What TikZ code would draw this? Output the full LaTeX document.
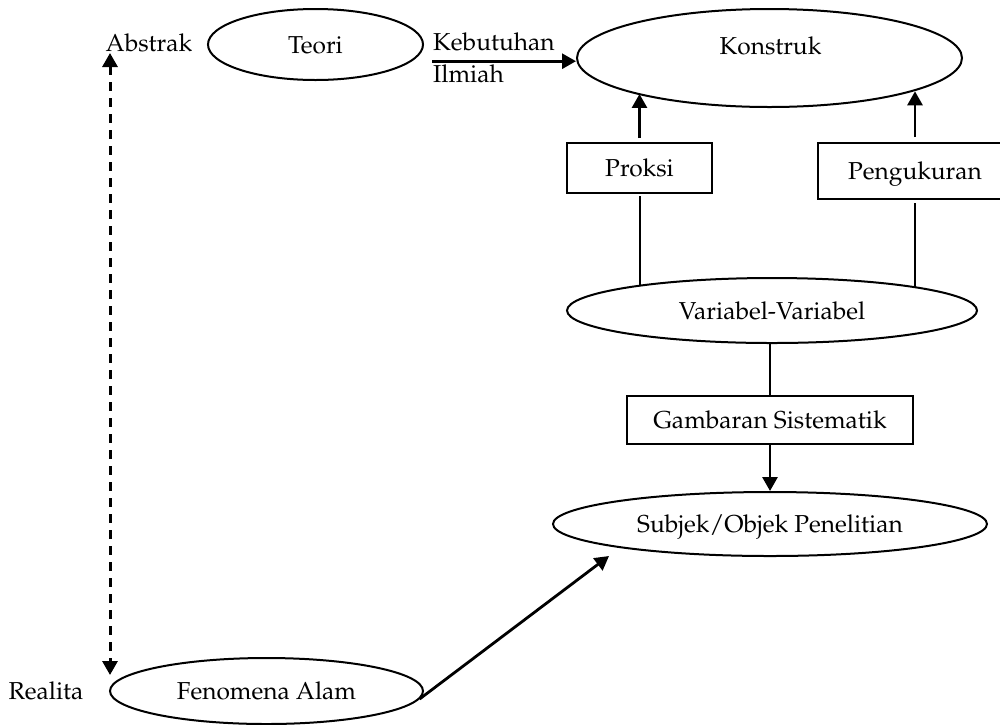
\documentclass[tikz,border=0pt]{standalone}
\usepackage[T1]{fontenc}
\usepackage{mathpazo}
\usetikzlibrary{shapes.geometric,arrows.meta,calc}

\begin{document}
\begin{tikzpicture}[x=1pt,y=-1pt,
  font=\fontsize{24.5}{29}\selectfont,
  txt/.style={inner sep=0pt, text height=17pt, text depth=0pt},
  oval/.style={draw, line width=2pt, ellipse, inner sep=0pt, text height=17pt, text depth=0pt},
  panel/.style={draw, line width=2pt, rectangle, inner sep=0pt, text height=17pt, text depth=0pt},
  link/.style={line width=2pt},
  arr/.style={line width=2.8pt, -{Triangle[length=14pt,width=15pt]}},
  dasharr/.style={line width=3pt, dash pattern=on 9pt off 7pt,
    {Triangle[length=14pt,width=15pt]}-{Triangle[length=14pt,width=15pt]}},
]
\clip (0,0) rectangle (1000,724);
\useasboundingbox (0,0) rectangle (1000,724);

% upper row: theory and construct
\node[txt] (abstrak) at (149,42.5) {Abstrak};
\node[oval, minimum width=215pt, minimum height=71pt] (teori) at (315.5,44.5) {Teori};
\node[txt, anchor=west] (kebutuhan) at (433,41.5) {Kebutuhan};
\node[txt, anchor=west] (ilmiah) at (433,74) {Ilmiah};
\node[oval, minimum width=385pt, minimum height=98pt] (konstruk) at (769.5,58) {};
\node[txt] (konstrukT) at (770.5,45.5) {Konstruk};

% operationalisation
\node[panel, minimum width=145pt, minimum height=50pt] (proksi) at (639.5,168) {Proksi};
\node[panel, minimum width=194pt, minimum height=56pt] (ukur) at (915,171) {Pengukuran};
\node[oval, minimum width=410pt, minimum height=65pt] (variabel) at (772,310.5) {Variabel-Variabel};
\node[panel, minimum width=286pt, minimum height=48pt] (gambaran) at (770,420) {Gambaran Sistematik};
\node[oval, minimum width=434pt, minimum height=64pt] (subjek) at (770,524) {Subjek/Objek Penelitian};

% reality
\node[txt] (realita) at (46,691) {Realita};
\node[oval, minimum width=313pt, minimum height=66pt] (fenomena) at (266.5,691) {Fenomena Alam};

% connectors
\coordinate (kbStart) at ($(kebutuhan.south west)+(-1,11)$);
\draw[arr] (kbStart) -- (kbStart -| konstruk.west);

\draw[arr] ([yshift=4pt]proksi.north) -- (proksi.north |- konstruk.195);
\draw[arr] ([yshift=5pt]ukur.north) -- (ukur.north |- konstruk.347.6);

\draw[link] ([yshift=-2pt]proksi.south) -- (proksi.south |- variabel.169.4);
\draw[link] ([yshift=-3pt]ukur.south) -- (ukur.south |- variabel.9.25);

\draw[link] ([xshift=-0.5pt]gambaran.north |- variabel.south) -- ([xshift=-0.5pt]gambaran.north);
\draw[arr] (gambaran.south) -- (subjek.north);

\coordinate (subjTip) at (609,556);
\draw[arr] (fenomena.-3.5) -- (subjTip);

\coordinate (absTip) at (110,53);
\coordinate (realTip) at (110,675);
\draw[dasharr] (absTip) -- (realTip);
\end{tikzpicture}
\end{document}
